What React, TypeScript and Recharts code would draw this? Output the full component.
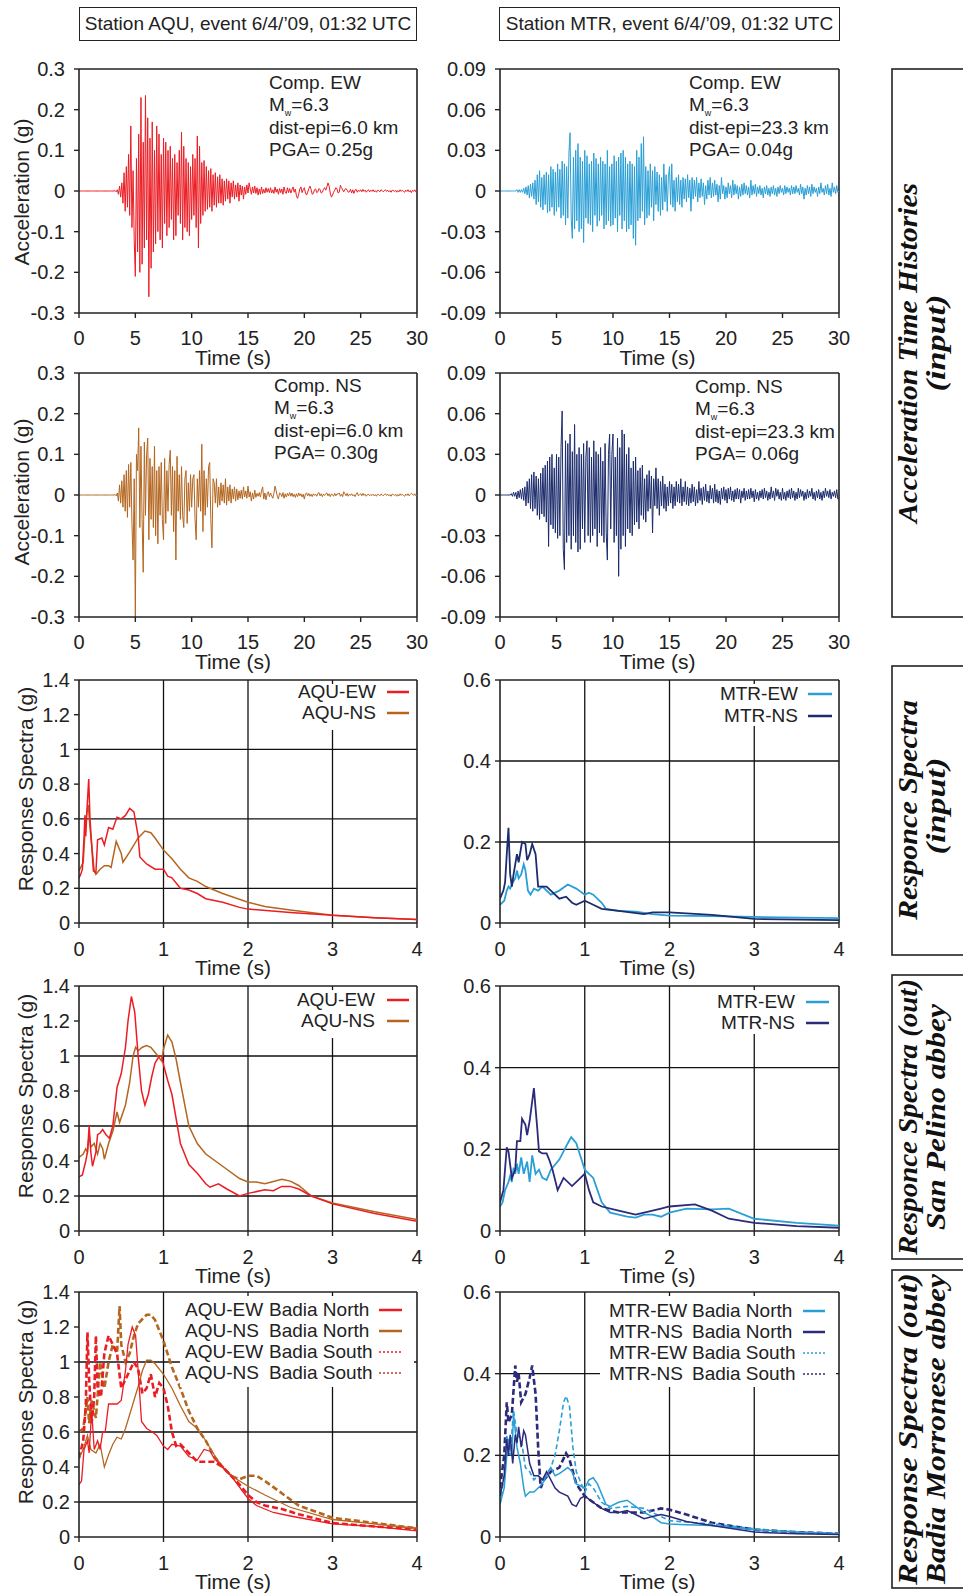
import { Fragment } from "react";
import { LineChart, Line, XAxis, YAxis, ReferenceLine } from "recharts";

const PAGE_W = 963;
const PAGE_H = 1594;
const SANS = '"Liberation Sans", Arial, Helvetica, sans-serif';
const SERIF = '"Liberation Serif", "Times New Roman", serif';
const INK = "#222";

const RED = "#ec1c24";
const BROWN = "#b4661f";
const SKY = "#2a9fd6";
const NAVY = "#1c2c6c";
const INDIGO = "#2c2a7a";

// time axis / ticks
const ACC_STEP = 0.1; // s between samples
const TIME_TICKS = [0, 5, 10, 15, 20, 25, 30];
const AQU_ACC_TICKS = [-0.3, -0.2, -0.1, 0, 0.1, 0.2, 0.3];
const MTR_ACC_TICKS = [-0.09, -0.06, -0.03, 0, 0.03, 0.06, 0.09];
const PERIOD_TICKS = [0, 1, 2, 3, 4];
const AQU_SA_TICKS = [0, 0.2, 0.4, 0.6, 0.8, 1, 1.2, 1.4];
const MTR_SA_TICKS = [0, 0.2, 0.4, 0.6];
const AQU_GRID_Y = [0.2, 0.6, 1];
const MTR_GRID_Y = [0.2, 0.4];
const GRID_X = [1, 2, 3];

// acceleration records, milli-g, one sample every 0.1 s (0..30 s)
const AQU_EW_ACC = [
  0, 0, 0, 0, 0, 0, 0, 0, 0, 0,
  0, 0, 0, 0, 0, 0, 0, 0, 0, 0,
  0, 0, 0, 0, 0, 0, 0, 0, 0, 0,
  0, 0, 1, -2, 3, -8, 12, -15, 20, -30,
  45, -50, 60, -40, 90, -60, 160, -90, 50, -120,
  -210, 80, -150, 140, -200, 230, -180, 120, -140, 235,
  -120, 180, -260, 130, -190, 170, -150, 100, -130, 160,
  -100, 140, -120, 90, -140, 130, -80, 120, -110, 100,
  -90, 110, -70, 80, -120, 90, -110, 70, -60, 100,
  -80, 145, -120, 110, -90, 80, -100, 70, -110, 60,
  -70, 90, -60, 80, -90, 135, -140, 110, -80, 70,
  -60, 75, -50, 60, -45, 50, -40, 55, -50, 40,
  -35, 45, -40, 35, -30, 40, -30, 30, -35, 25,
  -25, 30, -20, 25, -30, 20, -15, 25, -20, 15,
  -15, 20, -25, 15, -10, 12, -20, 10, -8, 15,
  -5, 20, 5, -8, 10, -5, 12, -6, 8, -10,
  5, -8, 10, -6, 4, -5, 8, -3, 6, -4,
  8, -5, 3, -6, 10, -3, 5, -8, 6, -4,
  5, -8, 10, -2, -6, 8, -4, 6, -5, 3,
  10, -3, 5, -12, -18, -8, 5, 10, -4, 3,
  8, -5, -10, -3, 6, 12, 4, -8, -6, 3,
  5, -4, -2, 6, 3, -5, -3, 4, 8, 2,
  10, 20, 12, -5, -15, -10, -3, 2, 8, 5,
  -5, -3, 14, 8, 3, -2, 4, 6, 2, -3,
  -2, 4, -5, 3, -6, 2, 4, -3, 2, -1,
  3, -2, 4, -1, 2, -3, 1, 3, -2, 2,
  -1, 3, -2, 1, -3, 2, 1, -2, 3, 1,
  -2, 1, 3, -1, 2, -2, 1, -3, 2, 1,
  -1, 2, -3, 1, -2, 3, -1, 2, -1, -3,
  2, -1, 3, -2, 1, -4, 2, -1, 3, -2,
  2,
];

const AQU_NS_ACC = [
  0, 0, 0, 0, 0, 0, 0, 0, 0, 0,
  0, 0, 0, 0, 0, 0, 0, 0, 0, 0,
  0, 0, 0, 0, 0, 0, 0, 0, 0, 0,
  0, 0, 1, -2, 5, -15, 25, -20, 35, -30,
  50, -40, 60, -55, 75, -30, 80, -70, -160, 40,
  -300, 100, 60, 165, -80, 120, -60, -190, 130, -50,
  100, 140, -110, 90, -60, 70, -80, 120, -100, 60,
  -120, 70, -50, 80, -60, -110, 90, -70, 60, -40,
  75, 110, -50, 70, -90, 60, -160, 95, -40, 50,
  -60, 70, -50, -80, 40, 60, -70, 30, -40, 50,
  -30, 40, 50, -60, -110, 40, -30, 60, -40, 125,
  -90, 60, -50, 40, -30, 70, 80, -60, -130, 40,
  30, -20, 40, -30, 20, -25, 30, -15, 25, -20,
  40, -25, 20, -15, 25, -20, 15, -10, 20, -15,
  15, -12, 10, -8, 12, -10, 20, -5, 10, -8,
  22, -5, 8, -15, 5, -10, 12, -6, 4, -3,
  6, -5, 10, 20, -10, 5, -12, 3, 8, -4,
  5, -2, -8, 4, 22, 10, -3, -10, 5, 3,
  -4, 6, -8, 3, -5, 4, -2, 6, -3, 5,
  -4, 2, -6, 3, -4, 5, -2, 3, -5, 2,
  -10, 3, 5, -2, 4, -3, 2, -4, 3, -1,
  2, -3, 4, 6, -2, 3, -4, 2, -1, 3,
  5, -2, 3, -4, 2, 1, -3, 4, -2, 3,
  2, 5, -3, 2, -4, 8, 3, -2, 4, -3,
  2, -1, 3, -2, 1, -4, 2, 6, -2, 1,
  3, -2, 4, -1, 2, -3, 1, 2, -2, 1,
  -1, 2, -2, 1, -3, 2, 1, -2, 2, 1,
  -2, 1, 3, -1, 2, -2, 1, -3, 2, 1,
  -1, 2, -3, 1, -2, 3, -1, 2, -1, -3,
  2, -1, 3, -2, 1, 4, 2, -1, 3, -2,
  0,
];

const MTR_EW_ACC = [
  0, 0, 0, 0, 0, 0, 0, 0, 0, 0,
  0, 0, 0, 0, 0, 1, -1, 1, -1, 1,
  -1, 2, -2, 3, -3, 4, -5, 5, -4, 6,
  -6, 8, -10, 12, -8, 15, -12, 10, -14, 12,
  -10, 14, -16, 12, -15, 18, -12, 16, -18, 14,
  -15, 20, -12, 16, -20, 22, -18, 20, -25, 18,
  -20, 28, 43, -20, -35, 25, -28, 30, -22, 35,
  -30, 25, -28, 22, -38, 30, -20, 26, -24, 20,
  -25, 22, -30, 28, -18, 24, -26, 20, -22, 25,
  -18, 22, -28, 20, -25, 30, -22, 18, -26, 20,
  -25, 26, -20, 22, -30, 25, -18, 28, -28, 30,
  -22, 25, -30, 20, -28, 22, -25, 20, -35, 18,
  -40, 30, -22, 25, -20, 35, -15, 40, -25, 18,
  -20, 15, -18, 20, -12, 15, -22, 18, -10, 14,
  -15, 12, -18, 10, -14, 20, -8, 12, -15, 10,
  18, -10, 20, -12, 8, -15, 10, -8, 12, -10,
  8, -12, 10, -6, 9, -8, 12, -5, 8, -15,
  10, -6, 8, -4, 10, -8, 6, -5, 9, -4,
  6, -10, 4, -6, 8, -3, 10, -5, 6, -4,
  8, -3, 5, -8, 4, -6, 10, -2, 4, -6,
  3, -5, 6, -2, 4, -5, 8, -3, 5, -2,
  4, -6, 3, -4, 5, -3, 6, -2, 4, -3,
  3, -5, 8, -3, 4, -2, 5, -4, 3, -2,
  4, -3, 2, -5, 3, -2, 4, -3, 2, -4,
  3, -2, 4, -3, 2, -4, 3, -2, 4, -1,
  2, -3, 4, -2, 3, -1, 2, -3, 4, -2,
  3, -2, 4, -1, 2, -3, 5, -2, 3, -6,
  2, -3, 4, -2, 3, -4, 5, -2, 3, -1,
  2, -4, 3, -2, 6, -1, 2, -3, 4, -2,
  5, -3, 2, -4, 6, -1, 3, -2, 4, -1,
  0,
];

const MTR_NS_ACC = [
  0, 0, 0, 0, 0, 0, 0, 0, 0, 0,
  1, -1, 2, -1, 2, -3, 3, -2, 4, -3,
  5, -4, 6, -8, 10, -6, 12, -10, 15, -12,
  17, -10, 14, -15, 12, -18, 16, -14, 20, -16,
  22, -20, 25, -38, 28, -22, 30, -25, 20, -28,
  30, -32, 28, -30, 35, 62, -40, -55, 40, -35,
  38, -30, 45, -40, 32, -30, 52, -35, 30, -42,
  35, -40, 30, -25, 38, -35, 28, 40, -30, 35,
  -35, 28, -30, 40, -25, 32, -38, 30, -28, 35,
  -30, 25, -35, 38, -28, -48, 30, 45, -25, 30,
  45, -35, 28, -30, 42, -60, 35, -40, 48, -30,
  45, -38, 30, -25, 35, -28, 20, -30, 25, -22,
  28, -20, 18, -25, 20, -15, 22, -18, 12, -20,
  15, -12, 18, -10, 14, -28, 12, -8, 20, -10,
  12, -15, 10, -8, 14, -10, 8, -12, 6, -8,
  10, -6, 8, -10, 6, -8, 10, -5, 8, -6,
  12, -8, 6, -5, 10, -7, 6, -8, 5, -6,
  8, -5, 6, -8, 4, -6, 10, -4, 5, -7,
  6, -4, 8, -5, 3, -6, 7, -3, 5, -6,
  8, -5, 4, -6, 3, -7, 5, -3, 6, -4,
  4, -6, 5, -3, 6, -4, 3, -5, 4, -3,
  5, -3, 4, -6, 3, -2, 5, -4, 3, -3,
  4, -3, 5, -2, 3, -5, 4, -3, 2, -4,
  3, -2, 4, -3, 5, -2, 3, -4, 2, -3,
  6, -2, 3, -4, 5, -1, 4, -3, 2, -4,
  5, -3, 2, -4, 3, -2, 4, -3, 5, -2,
  3, -4, 2, -3, 5, -2, 4, -1, 3, -4,
  2, -3, 4, -2, 3, -1, 5, -3, 2, -4,
  3, -2, 4, -3, 2, -4, 3, -2, 5, -1,
  3, -2, 4, -3, 2, -1, 3, -2, 4, -3,
  -2,
];

// response spectra: [period (s), Sa (g)]
const AQU_EW_IN = [[0, 0.26], [0.02, 0.28], [0.04, 0.31], [0.06, 0.5], [0.07, 0.62], [0.08, 0.5], [0.095, 0.66], [0.115, 0.83], [0.13, 0.6], [0.15, 0.45], [0.17, 0.3], [0.2, 0.29], [0.22, 0.48], [0.27, 0.49], [0.3, 0.45], [0.35, 0.55], [0.4, 0.54], [0.45, 0.61], [0.5, 0.6], [0.55, 0.62], [0.6, 0.66], [0.65, 0.64], [0.7, 0.5], [0.72, 0.38], [0.8, 0.34], [0.9, 0.31], [1.0, 0.31], [1.05, 0.27], [1.1, 0.26], [1.2, 0.2], [1.3, 0.19], [1.4, 0.17], [1.5, 0.14], [1.7, 0.12], [1.9, 0.09], [2.0, 0.08], [2.5, 0.06], [3.0, 0.045], [3.5, 0.03], [4.0, 0.02]];
const AQU_NS_IN = [[0, 0.3], [0.05, 0.35], [0.08, 0.6], [0.11, 0.68], [0.13, 0.55], [0.15, 0.45], [0.18, 0.3], [0.2, 0.28], [0.25, 0.31], [0.3, 0.33], [0.35, 0.33], [0.38, 0.32], [0.44, 0.47], [0.5, 0.4], [0.52, 0.35], [0.6, 0.41], [0.7, 0.49], [0.78, 0.53], [0.85, 0.52], [0.9, 0.49], [1.0, 0.42], [1.1, 0.37], [1.2, 0.31], [1.3, 0.26], [1.4, 0.24], [1.5, 0.21], [1.7, 0.17], [2.0, 0.12], [2.2, 0.095], [2.5, 0.075], [3.0, 0.045], [3.5, 0.03], [4.0, 0.02]];
const MTR_EW_IN = [[0, 0.045], [0.05, 0.055], [0.08, 0.08], [0.1, 0.09], [0.12, 0.085], [0.15, 0.1], [0.18, 0.11], [0.2, 0.13], [0.22, 0.11], [0.25, 0.12], [0.28, 0.145], [0.3, 0.13], [0.33, 0.08], [0.36, 0.07], [0.4, 0.085], [0.45, 0.08], [0.5, 0.09], [0.6, 0.07], [0.7, 0.08], [0.8, 0.095], [0.9, 0.085], [1.0, 0.07], [1.05, 0.075], [1.1, 0.07], [1.2, 0.05], [1.25, 0.035], [1.4, 0.03], [1.6, 0.028], [1.8, 0.022], [2.0, 0.018], [2.5, 0.017], [3.0, 0.015], [4.0, 0.012]];
const MTR_NS_IN = [[0, 0.06], [0.04, 0.08], [0.06, 0.1], [0.08, 0.17], [0.1, 0.235], [0.12, 0.12], [0.14, 0.09], [0.16, 0.12], [0.2, 0.17], [0.22, 0.15], [0.26, 0.2], [0.3, 0.195], [0.32, 0.155], [0.35, 0.17], [0.38, 0.195], [0.42, 0.17], [0.45, 0.09], [0.5, 0.09], [0.55, 0.09], [0.6, 0.08], [0.7, 0.06], [0.78, 0.065], [0.85, 0.05], [0.9, 0.045], [1.0, 0.055], [1.1, 0.045], [1.2, 0.035], [1.4, 0.03], [1.7, 0.022], [1.8, 0.026], [2.0, 0.026], [2.5, 0.02], [3.0, 0.01], [4.0, 0.007]];

const AQU_EW_SP = [[0, 0.31], [0.04, 0.32], [0.08, 0.4], [0.1, 0.45], [0.12, 0.6], [0.14, 0.45], [0.16, 0.37], [0.2, 0.45], [0.22, 0.55], [0.25, 0.56], [0.28, 0.58], [0.32, 0.55], [0.36, 0.53], [0.4, 0.6], [0.45, 0.82], [0.5, 0.9], [0.55, 1.05], [0.58, 1.2], [0.62, 1.34], [0.66, 1.25], [0.7, 1.0], [0.74, 0.8], [0.78, 0.72], [0.82, 0.78], [0.86, 0.88], [0.9, 0.96], [0.95, 1.0], [0.98, 1.0], [1.0, 0.95], [1.05, 0.86], [1.1, 0.78], [1.15, 0.64], [1.2, 0.5], [1.3, 0.38], [1.4, 0.33], [1.5, 0.27], [1.55, 0.25], [1.65, 0.27], [1.75, 0.24], [1.9, 0.2], [2.0, 0.215], [2.2, 0.235], [2.3, 0.23], [2.4, 0.255], [2.5, 0.255], [2.6, 0.24], [2.75, 0.2], [3.0, 0.155], [3.5, 0.1], [4.0, 0.055]];
const AQU_NS_SP = [[0, 0.42], [0.05, 0.44], [0.08, 0.47], [0.1, 0.45], [0.12, 0.55], [0.14, 0.48], [0.18, 0.5], [0.22, 0.44], [0.25, 0.5], [0.28, 0.47], [0.3, 0.41], [0.35, 0.5], [0.4, 0.57], [0.45, 0.68], [0.48, 0.62], [0.55, 0.72], [0.6, 0.85], [0.64, 1.0], [0.67, 1.05], [0.7, 1.03], [0.75, 1.05], [0.8, 1.06], [0.85, 1.05], [0.9, 1.02], [0.95, 0.99], [0.98, 0.97], [1.0, 1.04], [1.05, 1.12], [1.1, 1.08], [1.15, 0.98], [1.2, 0.85], [1.3, 0.6], [1.4, 0.5], [1.5, 0.44], [1.7, 0.37], [1.9, 0.3], [2.0, 0.28], [2.1, 0.28], [2.2, 0.27], [2.4, 0.295], [2.5, 0.285], [2.6, 0.26], [2.75, 0.2], [3.0, 0.16], [3.5, 0.11], [4.0, 0.065]];
const MTR_EW_SP = [[0, 0.06], [0.03, 0.07], [0.06, 0.1], [0.1, 0.12], [0.12, 0.135], [0.14, 0.12], [0.16, 0.155], [0.18, 0.14], [0.2, 0.165], [0.22, 0.14], [0.25, 0.18], [0.28, 0.14], [0.32, 0.17], [0.35, 0.12], [0.38, 0.185], [0.42, 0.14], [0.46, 0.15], [0.5, 0.13], [0.55, 0.125], [0.6, 0.15], [0.7, 0.175], [0.8, 0.215], [0.84, 0.23], [0.9, 0.215], [1.0, 0.15], [1.05, 0.14], [1.1, 0.13], [1.2, 0.07], [1.3, 0.045], [1.5, 0.035], [1.6, 0.033], [1.7, 0.04], [1.8, 0.04], [1.9, 0.035], [2.0, 0.045], [2.2, 0.055], [2.5, 0.053], [2.7, 0.055], [3.0, 0.03], [3.5, 0.02], [4.0, 0.013]];
const MTR_NS_SP = [[0, 0.07], [0.04, 0.1], [0.08, 0.205], [0.1, 0.195], [0.14, 0.13], [0.18, 0.15], [0.2, 0.22], [0.24, 0.22], [0.26, 0.275], [0.3, 0.26], [0.32, 0.235], [0.35, 0.27], [0.4, 0.35], [0.44, 0.25], [0.46, 0.195], [0.5, 0.19], [0.55, 0.19], [0.58, 0.175], [0.62, 0.15], [0.68, 0.1], [0.75, 0.13], [0.85, 0.11], [0.95, 0.13], [1.0, 0.14], [1.05, 0.1], [1.1, 0.07], [1.2, 0.06], [1.4, 0.05], [1.6, 0.04], [1.7, 0.045], [1.9, 0.055], [2.0, 0.06], [2.3, 0.065], [2.5, 0.05], [2.7, 0.03], [3.0, 0.02], [3.5, 0.012], [4.0, 0.008]];

const AQU_EW_BN = [[0, 0.3], [0.03, 0.32], [0.06, 0.5], [0.1, 0.55], [0.12, 0.48], [0.15, 0.72], [0.18, 0.5], [0.22, 0.55], [0.25, 0.5], [0.28, 0.6], [0.31, 0.6], [0.35, 0.76], [0.45, 0.76], [0.5, 0.78], [0.55, 0.95], [0.58, 1.1], [0.63, 1.2], [0.67, 1.15], [0.7, 0.95], [0.74, 0.66], [0.8, 0.62], [0.87, 0.6], [0.92, 0.58], [1.0, 0.52], [1.05, 0.5], [1.1, 0.53], [1.2, 0.52], [1.3, 0.46], [1.4, 0.44], [1.48, 0.5], [1.55, 0.49], [1.6, 0.45], [1.8, 0.35], [2.0, 0.22], [2.1, 0.18], [2.3, 0.14], [2.5, 0.12], [3.0, 0.075], [3.5, 0.06], [4.0, 0.035]];
const AQU_NS_BN = [[0, 0.45], [0.05, 0.5], [0.1, 0.58], [0.14, 0.5], [0.2, 0.48], [0.25, 0.53], [0.3, 0.4], [0.35, 0.47], [0.4, 0.53], [0.45, 0.57], [0.5, 0.56], [0.55, 0.62], [0.6, 0.7], [0.7, 0.86], [0.75, 0.95], [0.8, 1.01], [0.85, 1.01], [0.9, 0.99], [1.0, 0.93], [1.1, 0.85], [1.2, 0.75], [1.3, 0.66], [1.4, 0.62], [1.5, 0.55], [1.6, 0.47], [1.7, 0.4], [1.8, 0.35], [1.9, 0.32], [2.0, 0.29], [2.2, 0.24], [2.5, 0.17], [3.0, 0.1], [3.5, 0.075], [4.0, 0.05]];
const AQU_EW_BS = [[0, 0.45], [0.05, 0.55], [0.08, 0.75], [0.1, 1.17], [0.12, 0.9], [0.15, 0.65], [0.18, 0.8], [0.2, 1.15], [0.22, 0.85], [0.26, 0.8], [0.3, 1.05], [0.35, 1.15], [0.4, 1.1], [0.45, 1.05], [0.5, 0.85], [0.55, 0.9], [0.6, 0.95], [0.65, 1.0], [0.7, 0.96], [0.75, 0.82], [0.8, 0.85], [0.85, 0.93], [0.9, 0.8], [0.95, 0.88], [1.0, 0.85], [1.05, 0.75], [1.1, 0.6], [1.15, 0.52], [1.2, 0.53], [1.3, 0.48], [1.4, 0.43], [1.5, 0.43], [1.6, 0.43], [1.7, 0.4], [1.8, 0.35], [1.9, 0.3], [2.0, 0.24], [2.1, 0.2], [2.2, 0.18], [2.4, 0.16], [2.6, 0.13], [3.0, 0.08], [3.5, 0.06], [4.0, 0.045]];
const AQU_NS_BS = [[0, 0.6], [0.05, 0.62], [0.1, 0.8], [0.12, 0.65], [0.15, 0.78], [0.2, 0.68], [0.25, 1.0], [0.3, 0.85], [0.35, 1.0], [0.4, 1.1], [0.45, 1.05], [0.48, 1.32], [0.5, 1.1], [0.55, 1.0], [0.6, 1.05], [0.65, 1.15], [0.7, 1.22], [0.8, 1.27], [0.85, 1.27], [0.9, 1.24], [1.0, 1.12], [1.1, 0.97], [1.2, 0.85], [1.3, 0.72], [1.4, 0.62], [1.5, 0.55], [1.6, 0.46], [1.7, 0.4], [1.8, 0.35], [1.9, 0.33], [2.0, 0.35], [2.1, 0.35], [2.2, 0.32], [2.4, 0.25], [2.6, 0.18], [3.0, 0.11], [3.5, 0.08], [4.0, 0.05]];
const MTR_EW_BN = [[0, 0.08], [0.05, 0.12], [0.08, 0.2], [0.1, 0.24], [0.14, 0.2], [0.16, 0.3], [0.2, 0.22], [0.24, 0.18], [0.28, 0.12], [0.3, 0.1], [0.35, 0.11], [0.4, 0.11], [0.45, 0.12], [0.5, 0.13], [0.55, 0.15], [0.6, 0.17], [0.65, 0.15], [0.7, 0.155], [0.8, 0.17], [0.85, 0.16], [0.9, 0.13], [1.0, 0.12], [1.05, 0.14], [1.1, 0.145], [1.15, 0.13], [1.25, 0.08], [1.3, 0.075], [1.4, 0.085], [1.5, 0.09], [1.6, 0.075], [1.7, 0.06], [1.8, 0.05], [1.9, 0.035], [2.0, 0.032], [2.2, 0.03], [2.5, 0.028], [3.0, 0.018], [3.5, 0.012], [4.0, 0.008]];
const MTR_NS_BN = [[0, 0.1], [0.05, 0.15], [0.08, 0.24], [0.1, 0.2], [0.12, 0.25], [0.15, 0.18], [0.18, 0.25], [0.2, 0.23], [0.22, 0.27], [0.25, 0.22], [0.28, 0.26], [0.3, 0.25], [0.35, 0.18], [0.4, 0.15], [0.45, 0.15], [0.5, 0.14], [0.55, 0.16], [0.6, 0.14], [0.65, 0.12], [0.7, 0.11], [0.8, 0.1], [0.85, 0.08], [0.9, 0.075], [0.95, 0.095], [1.0, 0.1], [1.1, 0.085], [1.2, 0.07], [1.3, 0.06], [1.4, 0.06], [1.5, 0.065], [1.6, 0.055], [1.7, 0.045], [1.8, 0.05], [1.9, 0.055], [2.0, 0.05], [2.2, 0.038], [2.5, 0.028], [3.0, 0.012], [3.5, 0.008], [4.0, 0.006]];
const MTR_EW_BS = [[0, 0.08], [0.05, 0.15], [0.08, 0.25], [0.12, 0.2], [0.16, 0.31], [0.2, 0.25], [0.25, 0.24], [0.3, 0.17], [0.35, 0.16], [0.4, 0.14], [0.45, 0.15], [0.5, 0.14], [0.6, 0.17], [0.65, 0.2], [0.7, 0.26], [0.75, 0.33], [0.78, 0.345], [0.82, 0.32], [0.86, 0.22], [0.9, 0.16], [1.0, 0.11], [1.05, 0.13], [1.1, 0.12], [1.2, 0.085], [1.3, 0.07], [1.5, 0.075], [1.7, 0.07], [1.9, 0.05], [2.0, 0.04], [2.3, 0.035], [2.6, 0.03], [3.0, 0.02], [3.5, 0.012], [4.0, 0.009]];
const MTR_NS_BS = [[0, 0.12], [0.05, 0.2], [0.08, 0.33], [0.1, 0.28], [0.14, 0.3], [0.18, 0.42], [0.2, 0.38], [0.22, 0.4], [0.25, 0.33], [0.3, 0.35], [0.35, 0.39], [0.38, 0.42], [0.42, 0.35], [0.45, 0.22], [0.48, 0.12], [0.52, 0.14], [0.6, 0.16], [0.7, 0.17], [0.78, 0.205], [0.82, 0.19], [0.9, 0.13], [1.0, 0.1], [1.1, 0.085], [1.2, 0.07], [1.3, 0.065], [1.4, 0.06], [1.5, 0.06], [1.6, 0.06], [1.7, 0.06], [1.8, 0.065], [1.9, 0.07], [2.0, 0.067], [2.2, 0.055], [2.5, 0.035], [3.0, 0.018], [3.5, 0.012], [4.0, 0.008]];

// layout
const COL_X = [79, 500];
const COL_W = [338, 339];
const ROW_Y = [69, 373, 680, 986, 1292];
const ROW_H = [244, 244, 243, 245, 245];

const AXIS_W = 75;
const PAD_TOP = 16;
const PAD_RIGHT = 16;
const AXIS_H = 40;

type Pt = { x: number; y: number };
type Series = { name: string; data: Pt[]; color: string; width: number; dash?: string };

const accSeries = (values: number[]): Pt[] =>
  values.map((v, i) => ({ x: Math.round(i * ACC_STEP * 10) / 10, y: v / 1000 }));
const spSeries = (pairs: number[][]): Pt[] => pairs.map(([x, y]) => ({ x, y }));

function Plot({
  col,
  row,
  xTicks,
  yTicks,
  series,
  gridX = [],
  gridY = [],
  yTickMargin,
  xTickMargin,
}: {
  col: number;
  row: number;
  xTicks: number[];
  yTicks: number[];
  series: Series[];
  gridX?: number[];
  gridY?: number[];
  yTickMargin: number;
  xTickMargin: number;
}) {
  const w = COL_W[col];
  const h = ROW_H[row];
  const xMax = xTicks[xTicks.length - 1];
  const yMin = yTicks[0];
  const yMax = yTicks[yTicks.length - 1];
  const tickStyle = { fill: INK, fontSize: 20, fontFamily: SANS };
  return (
    <div style={{ position: "absolute", left: COL_X[col] - AXIS_W, top: ROW_Y[row] - PAD_TOP }}>
      <LineChart
        width={AXIS_W + w + PAD_RIGHT}
        height={PAD_TOP + h + AXIS_H}
        margin={{ top: PAD_TOP, right: PAD_RIGHT, bottom: 0, left: 0 }}
      >
        <XAxis
          type="number"
          dataKey="x"
          domain={[0, xMax]}
          ticks={xTicks}
          interval={0}
          allowDataOverflow
          height={AXIS_H}
          tickSize={5}
          tickMargin={xTickMargin}
          tick={tickStyle}
          axisLine={{ stroke: INK, strokeWidth: 1.6 }}
          tickLine={{ stroke: INK, strokeWidth: 1.4 }}
        />
        <YAxis
          type="number"
          dataKey="y"
          domain={[yMin, yMax]}
          ticks={yTicks}
          interval={0}
          allowDataOverflow
          width={AXIS_W}
          tickSize={5}
          tickMargin={yTickMargin}
          tick={tickStyle}
          axisLine={{ stroke: INK, strokeWidth: 1.6 }}
          tickLine={{ stroke: INK, strokeWidth: 1.4 }}
        />
        {gridY.map((v) => (
          <ReferenceLine key={"gy" + v} y={v} stroke="#111" strokeWidth={1.3} />
        ))}
        {gridX.map((v) => (
          <ReferenceLine key={"gx" + v} x={v} stroke="#111" strokeWidth={1.3} />
        ))}
        <ReferenceLine y={yMax} stroke={INK} strokeWidth={1.6} />
        <ReferenceLine x={xMax} stroke={INK} strokeWidth={1.6} />
        {series.map((s) => (
          <Line
            key={s.name}
            data={s.data}
            dataKey="y"
            type="linear"
            stroke={s.color}
            strokeWidth={s.width}
            strokeDasharray={s.dash}
            dot={false}
            activeDot={false}
            isAnimationActive={false}
          />
        ))}
      </LineChart>
    </div>
  );
}

function Txt({ x, y, size = 19, children, anchor = "left" }: { x: number; y: number; size?: number; children: any; anchor?: "left" | "right" }) {
  const pos = anchor === "left" ? { left: x } : { right: PAGE_W - x };
  return (
    <div
      style={{
        position: "absolute",
        ...pos,
        top: y - 11,
        height: 22,
        lineHeight: "22px",
        fontSize: size,
        fontFamily: SANS,
        color: INK,
        whiteSpace: "nowrap",
      }}
    >
      {children}
    </div>
  );
}

function VLabel({ cx, cy, text }: { cx: number; cy: number; text: string }) {
  return (
    <div
      style={{
        position: "absolute",
        left: cx,
        top: cy,
        transform: "translate(-50%, -50%) rotate(-90deg)",
        fontSize: 21,
        fontFamily: SANS,
        color: INK,
        whiteSpace: "nowrap",
        lineHeight: "24px",
      }}
    >
      {text}
    </div>
  );
}

function TimeLabel({ col, row }: { col: number; row: number }) {
  const cx = COL_X[col] + COL_W[col] / 2 - (col === 0 ? 15 : 12);
  const cy = ROW_Y[row] + ROW_H[row] + 45;
  return (
    <div
      style={{
        position: "absolute",
        left: cx,
        top: cy,
        transform: "translate(-50%, -50%)",
        fontSize: 21,
        fontFamily: SANS,
        color: INK,
        whiteSpace: "nowrap",
        lineHeight: "24px",
      }}
    >
      Time (s)
    </div>
  );
}

function Annotation({ x, y, comp, dist, pga }: { x: number; y: number; comp: string; dist: string; pga: string }) {
  const lines = [
    <>Comp. {comp}</>,
    <>
      M<span style={{ fontSize: 9, position: "relative", top: 5 }}>w</span>=6.3
    </>,
    <>dist-epi={dist} km</>,
    <>PGA= {pga}g</>,
  ];
  return (
    <>
      {lines.map((l, i) => (
        <Txt key={i} x={x} y={y + i * 22.3}>
          {l}
        </Txt>
      ))}
    </>
  );
}

type LegendItem = { label: string; site?: string; color: string; width: number; dash?: string };

function SpectraLegend({
  bg,
  items,
  textRight,
  labelX,
  siteX,
  sampleX,
  sampleW,
  firstY,
  rowH,
}: {
  bg: number[];
  items: LegendItem[];
  textRight?: number;
  labelX?: number;
  siteX?: number;
  sampleX: number;
  sampleW: number;
  firstY: number;
  rowH: number;
}) {
  return (
    <>
      <div style={{ position: "absolute", left: bg[0], top: bg[1], width: bg[2], height: bg[3], background: "#fff" }} />
      {items.map((it, i) => {
        const cy = firstY + i * rowH;
        return (
          <Fragment key={it.label + (it.site || "")}>
            {textRight != null ? (
              <Txt x={textRight} y={cy} anchor="right">
                {it.label}
              </Txt>
            ) : (
              <>
                <Txt x={labelX as number} y={cy}>
                  {it.label}
                </Txt>
                <Txt x={siteX as number} y={cy}>
                  {it.site}
                </Txt>
              </>
            )}
            <svg style={{ position: "absolute", left: sampleX, top: cy - 4 }} width={sampleW} height={8}>
              <line x1={0} y1={4} x2={sampleW} y2={4} stroke={it.color} strokeWidth={it.width} strokeDasharray={it.dash} />
            </svg>
          </Fragment>
        );
      })}
    </>
  );
}

const SIDE_BOXES = [
  { y: 69, h: 548, lines: ["Acceleration Time Histories", "(input)"], lens: [340, 97], centers: [353, 343], size: 27 },
  { y: 666, h: 289, lines: ["Responce Spectra", "(input)"], lens: [220, 97], centers: [810, 806], size: 28 },
  { y: 975, h: 284, lines: ["Responce Spectra (out)", "San Pelino abbey"], lens: [276, 226], centers: [1117, 1117], size: 28 },
  { y: 1270, h: 318, lines: ["Response Spectra (out)", "Badia Morronese abbey"], lens: [312, 310], centers: [1429, 1429], size: 28 },
];

function SideLabels() {
  const left = 892;
  const baselines = [917, 945];
  return (
    <svg
      width={PAGE_W}
      height={PAGE_H}
      style={{ position: "absolute", left: 0, top: 0, pointerEvents: "none" }}
    >
      {SIDE_BOXES.map((b) => (
        <g key={b.lines[0] + b.y}>
          <rect x={left} y={b.y} width={120} height={b.h} fill="none" stroke={INK} strokeWidth={1.6} />
          {b.lines.map((t, i) => (
            <text
              key={t}
              x={baselines[i]}
              y={b.centers[i]}
              transform={`rotate(-90 ${baselines[i]} ${b.centers[i]})`}
              textAnchor="middle"
              fontFamily={SERIF}
              fontWeight="bold"
              fontStyle="italic"
              fontSize={b.size}
              fill="#111"
              textLength={b.lens[i]}
              lengthAdjust="spacingAndGlyphs"
            >
              {t}
            </text>
          ))}
        </g>
      ))}
    </svg>
  );
}

function Header({ x, w, text }: { x: number; w: number; text: string }) {
  return (
    <div
      style={{
        position: "absolute",
        left: x,
        top: 7,
        width: w,
        height: 34,
        boxSizing: "border-box",
        border: `1.6px solid ${INK}`,
        fontFamily: SANS,
        fontSize: 19,
        lineHeight: "31px",
        textAlign: "center",
        color: INK,
        whiteSpace: "nowrap",
      }}
    >
      {text}
    </div>
  );
}

export default function App() {
  const accMargins = { yTickMargin: 9, xTickMargin: 13 };
  const spMargins = { yTickMargin: 4, xTickMargin: 14 };
  return (
    <div style={{ position: "absolute", left: 0, top: 0, width: PAGE_W, height: PAGE_H, background: "#fff", overflow: "hidden" }}>
      <Header x={79} w={338} text="Station AQU, event 6/4/’09, 01:32 UTC" />
      <Header x={499} w={341} text="Station MTR, event 6/4/’09, 01:32 UTC" />

      {/* acceleration time histories */}
      <Plot col={0} row={0} xTicks={TIME_TICKS} yTicks={AQU_ACC_TICKS} {...accMargins}
        series={[{ name: "AQU-EW", data: accSeries(AQU_EW_ACC), color: RED, width: 1 }]} />
      <Plot col={1} row={0} xTicks={TIME_TICKS} yTicks={MTR_ACC_TICKS} {...accMargins}
        series={[{ name: "MTR-EW", data: accSeries(MTR_EW_ACC), color: SKY, width: 1 }]} />
      <Plot col={0} row={1} xTicks={TIME_TICKS} yTicks={AQU_ACC_TICKS} {...accMargins}
        series={[{ name: "AQU-NS", data: accSeries(AQU_NS_ACC), color: BROWN, width: 1 }]} />
      <Plot col={1} row={1} xTicks={TIME_TICKS} yTicks={MTR_ACC_TICKS} {...accMargins}
        series={[{ name: "MTR-NS", data: accSeries(MTR_NS_ACC), color: NAVY, width: 1 }]} />

      {/* response spectra input */}
      <Plot col={0} row={2} xTicks={PERIOD_TICKS} yTicks={AQU_SA_TICKS} gridX={GRID_X} gridY={AQU_GRID_Y} {...spMargins}
        series={[
          { name: "AQU-NS", data: spSeries(AQU_NS_IN), color: BROWN, width: 1.5 },
          { name: "AQU-EW", data: spSeries(AQU_EW_IN), color: RED, width: 1.5 },
        ]} />
      <Plot col={1} row={2} xTicks={PERIOD_TICKS} yTicks={MTR_SA_TICKS} gridX={GRID_X} gridY={MTR_GRID_Y} {...spMargins}
        series={[
          { name: "MTR-EW", data: spSeries(MTR_EW_IN), color: SKY, width: 1.8 },
          { name: "MTR-NS", data: spSeries(MTR_NS_IN), color: NAVY, width: 1.8 },
        ]} />

      {/* San Pelino */}
      <Plot col={0} row={3} xTicks={PERIOD_TICKS} yTicks={AQU_SA_TICKS} gridX={GRID_X} gridY={AQU_GRID_Y} {...spMargins}
        series={[
          { name: "AQU-NS", data: spSeries(AQU_NS_SP), color: BROWN, width: 1.5 },
          { name: "AQU-EW", data: spSeries(AQU_EW_SP), color: RED, width: 1.5 },
        ]} />
      <Plot col={1} row={3} xTicks={PERIOD_TICKS} yTicks={MTR_SA_TICKS} gridX={GRID_X} gridY={MTR_GRID_Y} {...spMargins}
        series={[
          { name: "MTR-EW", data: spSeries(MTR_EW_SP), color: SKY, width: 1.8 },
          { name: "MTR-NS", data: spSeries(MTR_NS_SP), color: INDIGO, width: 1.8 },
        ]} />

      {/* Badia Morronese */}
      <Plot col={0} row={4} xTicks={PERIOD_TICKS} yTicks={AQU_SA_TICKS} gridX={GRID_X} gridY={AQU_GRID_Y} {...spMargins}
        series={[
          { name: "AQU-NS-BS", data: spSeries(AQU_NS_BS), color: BROWN, width: 2.6, dash: "6 3" },
          { name: "AQU-EW-BS", data: spSeries(AQU_EW_BS), color: RED, width: 2.6, dash: "6 3" },
          { name: "AQU-NS-BN", data: spSeries(AQU_NS_BN), color: BROWN, width: 1.3 },
          { name: "AQU-EW-BN", data: spSeries(AQU_EW_BN), color: RED, width: 1.3 },
        ]} />
      <Plot col={1} row={4} xTicks={PERIOD_TICKS} yTicks={MTR_SA_TICKS} gridX={GRID_X} gridY={MTR_GRID_Y} {...spMargins}
        series={[
          { name: "MTR-NS-BS", data: spSeries(MTR_NS_BS), color: INDIGO, width: 2.6, dash: "6 3" },
          { name: "MTR-EW-BS", data: spSeries(MTR_EW_BS), color: SKY, width: 1.6, dash: "5 3" },
          { name: "MTR-EW-BN", data: spSeries(MTR_EW_BN), color: SKY, width: 1.5 },
          { name: "MTR-NS-BN", data: spSeries(MTR_NS_BN), color: INDIGO, width: 1.5 },
        ]} />

      {/* axis titles */}
      <VLabel cx={22} cy={192} text="Acceleration (g)" />
      <VLabel cx={22} cy={492} text="Acceleration (g)" />
      <VLabel cx={26} cy={789} text="Response Spectra (g)" />
      <VLabel cx={26} cy={1096} text="Response Spectra (g)" />
      <VLabel cx={26} cy={1402} text="Response Spectra (g)" />
      {[0, 1, 2, 3, 4].map((r) => (
        <Fragment key={r}>
          <TimeLabel col={0} row={r} />
          <TimeLabel col={1} row={r} />
        </Fragment>
      ))}

      {/* record annotations */}
      <Annotation x={269} y={83} comp="EW" dist="6.0" pga="0.25" />
      <Annotation x={689} y={83} comp="EW" dist="23.3" pga="0.04" />
      <Annotation x={274} y={386} comp="NS" dist="6.0" pga="0.30" />
      <Annotation x={695} y={387} comp="NS" dist="23.3" pga="0.06" />

      {/* legends */}
      <SpectraLegend bg={[292, 684, 122, 46]} textRight={376} sampleX={387} sampleW={22} firstY={692} rowH={21}
        items={[
          { label: "AQU-EW", color: RED, width: 2.5 },
          { label: "AQU-NS", color: BROWN, width: 2.5 },
        ]} />
      <SpectraLegend bg={[715, 684, 121, 42]} textRight={798} sampleX={808} sampleW={24} firstY={694} rowH={22}
        items={[
          { label: "MTR-EW", color: SKY, width: 2.5 },
          { label: "MTR-NS", color: NAVY, width: 2.5 },
        ]} />
      <SpectraLegend bg={[292, 990, 122, 48]} textRight={375} sampleX={387} sampleW={22} firstY={1000} rowH={21}
        items={[
          { label: "AQU-EW", color: RED, width: 2.5 },
          { label: "AQU-NS", color: BROWN, width: 2.5 },
        ]} />
      <SpectraLegend bg={[712, 990, 124, 44]} textRight={795} sampleX={806} sampleW={23} firstY={1002} rowH={21}
        items={[
          { label: "MTR-EW", color: SKY, width: 2.5 },
          { label: "MTR-NS", color: INDIGO, width: 2.5 },
        ]} />
      <SpectraLegend bg={[180, 1296, 234, 91]} labelX={185} siteX={269} sampleX={379} sampleW={23} firstY={1310} rowH={21}
        items={[
          { label: "AQU-EW", site: "Badia North", color: RED, width: 2.5 },
          { label: "AQU-NS", site: "Badia North", color: BROWN, width: 2.5 },
          { label: "AQU-EW", site: "Badia South", color: RED, width: 1.5, dash: "2 2" },
          { label: "AQU-NS", site: "Badia South", color: "#c0392b", width: 1.5, dash: "2 2" },
        ]} />
      <SpectraLegend bg={[600, 1296, 236, 91]} labelX={609} siteX={692} sampleX={803} sampleW={22} firstY={1311} rowH={21}
        items={[
          { label: "MTR-EW", site: "Badia North", color: SKY, width: 2.5 },
          { label: "MTR-NS", site: "Badia North", color: INDIGO, width: 2.5 },
          { label: "MTR-EW", site: "Badia South", color: SKY, width: 1.5, dash: "2 2" },
          { label: "MTR-NS", site: "Badia South", color: INDIGO, width: 1.5, dash: "2 2" },
        ]} />

      <SideLabels />
    </div>
  );
}
